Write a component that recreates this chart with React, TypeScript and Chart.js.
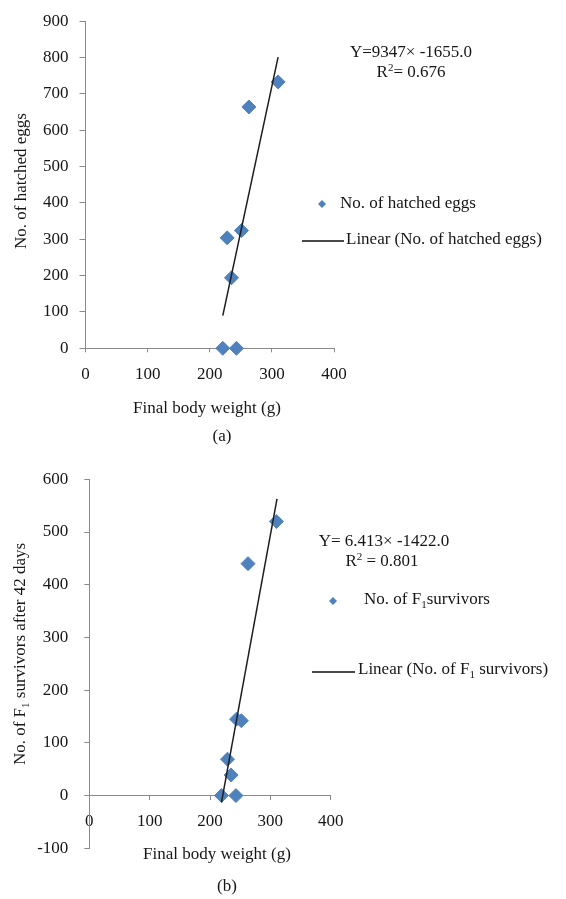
import React, { useEffect, useRef } from "react";
import { Chart, registerables } from "chart.js";

Chart.register(...registerables);

// ---------- data: panel (a) ----------
const weightA = [221, 243, 228, 235, 251, 263, 310];
const hatchedEggs = [0, 0, 304, 194, 324, 664, 733];
const trendAx = [221, 310];
const trendAy = [90, 801];
const yTicksA = [0, 100, 200, 300, 400, 500, 600, 700, 800, 900];

// ---------- data: panel (b) ----------
const weightB = [219, 243, 229, 235, 244, 252, 263, 310];
const survivors = [0, 0, 69, 39, 145, 142, 440, 520];
const trendBx = [219, 311];
const trendBy = [-13, 563];
const yTicksB = [-100, 0, 100, 200, 300, 400, 500, 600];

const xTicks = [0, 100, 200, 300, 400];

// ---------- texts ----------
const xTitle = "Final body weight (g)";
const captionA = "(a)";
const captionB = "(b)";
const eqA1 = "Y=9347\u00d7 -1655.0";
const eqA2 = ["R", "2", "= 0.676"];
const eqB1 = "Y= 6.413\u00d7 -1422.0";
const eqB2 = ["R", "2", " = 0.801"];
const legendA1 = "No. of hatched eggs";
const legendA2 = "Linear (No. of hatched eggs)";
const yTitleA = "No. of hatched eggs";
const legendB1 = ["No. of F", "1", "survivors"];
const legendB2 = ["Linear (No. of F", "1", " survivors)"];
const yTitleB = ["No. of F", "1", " survivors after 42 days"];

const FONT = '"Liberation Serif", "Times New Roman", serif';
const TEXT = "#161616";
const AXIS = "#8a8a8a";
const BLUE = "#4F81BD";
const SIZE = 17;

type Seg = { t: string; sub?: boolean; sup?: boolean };

function drawRich(
  ctx: CanvasRenderingContext2D,
  segs: Seg[],
  x: number,
  y: number,
  align: "left" | "center",
  size = SIZE
) {
  const small = Math.round(size * 0.62);
  const widths = segs.map((s) => {
    ctx.font = `${s.sub || s.sup ? small : size}px ${FONT}`;
    return ctx.measureText(s.t).width;
  });
  const total = widths.reduce((a, b) => a + b, 0);
  let cx = align === "center" ? x - total / 2 : x;
  ctx.textBaseline = "middle";
  ctx.textAlign = "left";
  ctx.fillStyle = TEXT;
  segs.forEach((s, i) => {
    ctx.font = `${s.sub || s.sup ? small : size}px ${FONT}`;
    const dy = s.sub ? size * 0.28 : s.sup ? -size * 0.3 : 0;
    ctx.fillText(s.t, cx, y + dy);
    cx += widths[i];
  });
}

const plain = (t: string): Seg[] => [{ t }];
const withSub = (p: string[]): Seg[] => [{ t: p[0] }, { t: p[1], sub: true }, { t: p[2] }];
const withSup = (p: string[]): Seg[] => [{ t: p[0] }, { t: p[1], sup: true }, { t: p[2] }];

function diamond(ctx: CanvasRenderingContext2D, x: number, y: number, r: number) {
  ctx.beginPath();
  ctx.moveTo(x - r, y);
  ctx.lineTo(x, y - r);
  ctx.lineTo(x + r, y);
  ctx.lineTo(x, y + r);
  ctx.closePath();
  ctx.fillStyle = BLUE;
  ctx.fill();
}

function legendLine(ctx: CanvasRenderingContext2D, x1: number, x2: number, y: number) {
  ctx.beginPath();
  ctx.moveTo(x1, y);
  ctx.lineTo(x2, y);
  ctx.strokeStyle = "#4a4a4a";
  ctx.lineWidth = 2;
  ctx.stroke();
}

function rotated(ctx: CanvasRenderingContext2D, segs: Seg[], cx: number, cy: number) {
  ctx.save();
  ctx.translate(cx, cy);
  ctx.rotate(-Math.PI / 2);
  drawRich(ctx, segs, 0, 0, "center");
  ctx.restore();
}

const textPluginA = {
  id: "textsA",
  afterDraw(chart: any) {
    const ctx = chart.ctx as CanvasRenderingContext2D;
    ctx.save();
    drawRich(ctx, plain(eqA1), 411, 53, "center");
    drawRich(ctx, withSup(eqA2), 411, 73, "center");
    diamond(ctx, 322, 204, 4);
    drawRich(ctx, plain(legendA1), 340, 204, "left");
    legendLine(ctx, 302, 344, 241);
    drawRich(ctx, plain(legendA2), 346, 240, "left");
    rotated(ctx, plain(yTitleA), 22, 181);
    drawRich(ctx, plain(xTitle), 207, 409, "center");
    drawRich(ctx, plain(captionA), 222, 437, "center");
    ctx.restore();
  },
};

const textPluginB = {
  id: "textsB",
  afterDraw(chart: any) {
    const ctx = chart.ctx as CanvasRenderingContext2D;
    ctx.save();
    drawRich(ctx, plain(eqB1), 384, 92, "center");
    drawRich(ctx, withSup(eqB2), 382, 112, "center");
    diamond(ctx, 333, 151, 4);
    drawRich(ctx, withSub(legendB1), 364, 150, "left");
    legendLine(ctx, 312, 355, 222);
    drawRich(ctx, withSub(legendB2), 358, 220, "left");
    rotated(ctx, withSub(yTitleB), 21, 204);
    drawRich(ctx, plain(xTitle), 217, 405, "center");
    drawRich(ctx, plain(captionB), 227, 437, "center");
    ctx.restore();
  },
};

function makeConfig(
  xs: number[],
  ys: number[],
  tx: number[],
  ty: number[],
  yTicks: number[],
  panel: "a" | "b"
): any {
  const yMin = yTicks[0];
  const yMax = yTicks[yTicks.length - 1];
  const isA = panel === "a";
  return {
    type: "scatter",
    data: {
      datasets: [
        {
          label: "trend",
          type: "line",
          data: tx.map((x, i) => ({ x, y: ty[i] })),
          borderColor: "#1e1e1e",
          borderWidth: 1.5,
          pointRadius: 0,
          fill: false,
          tension: 0,
          order: 0,
          clip: false,
        },
        {
          label: "points",
          data: xs.map((x, i) => ({ x, y: ys[i] })),
          pointStyle: "rectRot",
          pointRadius: 7,
          backgroundColor: BLUE,
          borderColor: BLUE,
          borderWidth: 1,
          order: 1,
          clip: false,
        },
      ],
    },
    options: {
      responsive: false,
      animation: false,
      events: [],
      layout: {
        padding: isA
          ? { left: 0, right: 232, top: 16, bottom: 0 }
          : { left: 0, right: 235.3, top: 29.3, bottom: 50.7 },
      },
      plugins: {
        legend: { display: false },
        tooltip: { enabled: false },
        title: { display: false },
      },
      scales: {
        x: {
          type: "linear",
          position: isA ? "bottom" : { y: 0 },
          min: xTicks[0],
          max: xTicks[xTicks.length - 1],
          afterBuildTicks: (s: any) => {
            s.ticks = xTicks.map((v) => ({ value: v }));
          },
          afterFit: isA
            ? (s: any) => {
                s.height = 101.7;
              }
            : undefined,
          ticks: {
            color: TEXT,
            font: { family: FONT, size: SIZE },
            padding: 12,
            maxRotation: 0,
            autoSkip: false,
          },
          grid: {
            display: true,
            drawOnChartArea: false,
            drawTicks: true,
            tickLength: 4,
            color: AXIS,
          },
          border: { display: true, color: AXIS, width: 1 },
        },
        y: {
          type: "linear",
          position: "left",
          min: yMin,
          max: yMax,
          afterBuildTicks: (s: any) => {
            s.ticks = yTicks.map((v) => ({ value: v }));
          },
          afterFit: (s: any) => {
            s.width = isA ? 85.5 : 89.3;
          },
          ticks: {
            color: TEXT,
            font: { family: FONT, size: SIZE },
            padding: isA ? 11 : 16,
            autoSkip: false,
          },
          grid: {
            display: true,
            drawOnChartArea: false,
            drawTicks: true,
            tickLength: isA ? 6 : 5,
            color: AXIS,
          },
          border: { display: true, color: AXIS, width: 1 },
        },
      },
    },
    plugins: [isA ? textPluginA : textPluginB],
  };
}

function Panel({ panel, height }: { panel: "a" | "b"; height: number }) {
  const ref = useRef<HTMLCanvasElement | null>(null);
  useEffect(() => {
    if (!ref.current) return;
    const cfg =
      panel === "a"
        ? makeConfig(weightA, hatchedEggs, trendAx, trendAy, yTicksA, "a")
        : makeConfig(weightB, survivors, trendBx, trendBy, yTicksB, "b");
    const chart = new Chart(ref.current, cfg);
    return () => chart.destroy();
  }, [panel]);
  return <canvas ref={ref} width={566} height={height} style={{ display: "block", width: 566, height }} />;
}

export default function App() {
  return (
    <div
      style={{
        position: "absolute",
        left: 0,
        top: 0,
        width: 566,
        height: 899,
        background: "#ffffff",
      }}
    >
      <Panel panel="a" height={450} />
      <Panel panel="b" height={449} />
    </div>
  );
}
